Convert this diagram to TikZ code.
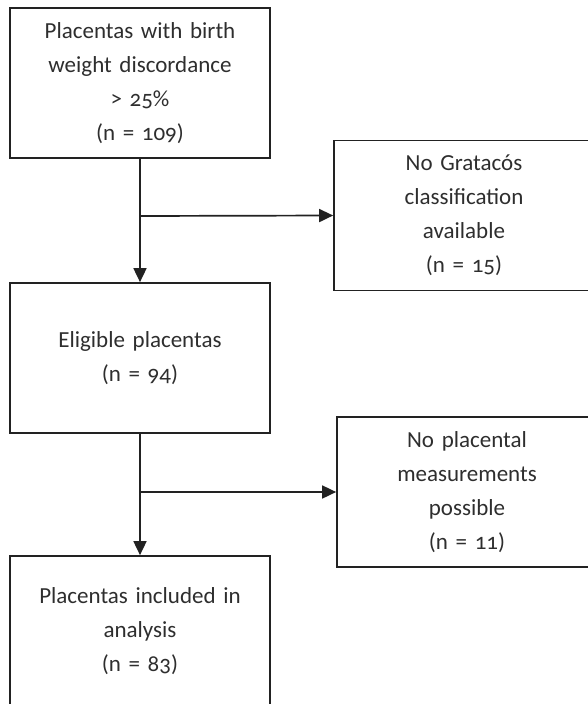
\documentclass[tikz,border=0pt]{standalone}
\usepackage{fontspec}
\setmainfont[Numbers=OldStyle]{Carlito}
\usetikzlibrary{arrows.meta}
\definecolor{ink}{HTML}{222222}
\definecolor{txt}{HTML}{2E2E2E}
\begin{document}
\begin{tikzpicture}[x=1pt,y=1pt,
  flowbox/.style={draw=ink, line width=1.7pt, minimum width=260pt, minimum height=150pt,
    text width=250pt, align=center, inner sep=0pt, text=txt,
    font=\fontsize{23}{34}\selectfont},
  link/.style={draw=ink, line width=1.7pt},
  arr/.style={link, -{Triangle[length=14pt,width=13pt]}}]
\useasboundingbox (0,0) rectangle (587,-704);
\node[flowbox] (a) at (140,-83) {Placentas with birth\\weight discordance\\> 25\%\\(n = 109)};
\node[flowbox] (b) at (140,-358) {Eligible placentas\\(n = 94)};
\node[flowbox] (c) at (140,-631) {Placentas included in\\analysis\\(n = 83)};
\node[flowbox] (s1) at (464,-215.5) {No Gratacós\\classification\\available\\(n = 15)};
\node[flowbox] (s2) at (467,-492) {No placental\\measurements\\possible\\(n = 11)};
\coordinate (j1) at (140,-216);
\coordinate (j2) at (140,-492);
\draw[arr] (a.south) -- (b.north);
\draw[arr] (j1) -- (s1.west);
\draw[arr] (b.south) -- (c.north);
\draw[arr] (j2) -- (s2.west);
\end{tikzpicture}
\end{document}
